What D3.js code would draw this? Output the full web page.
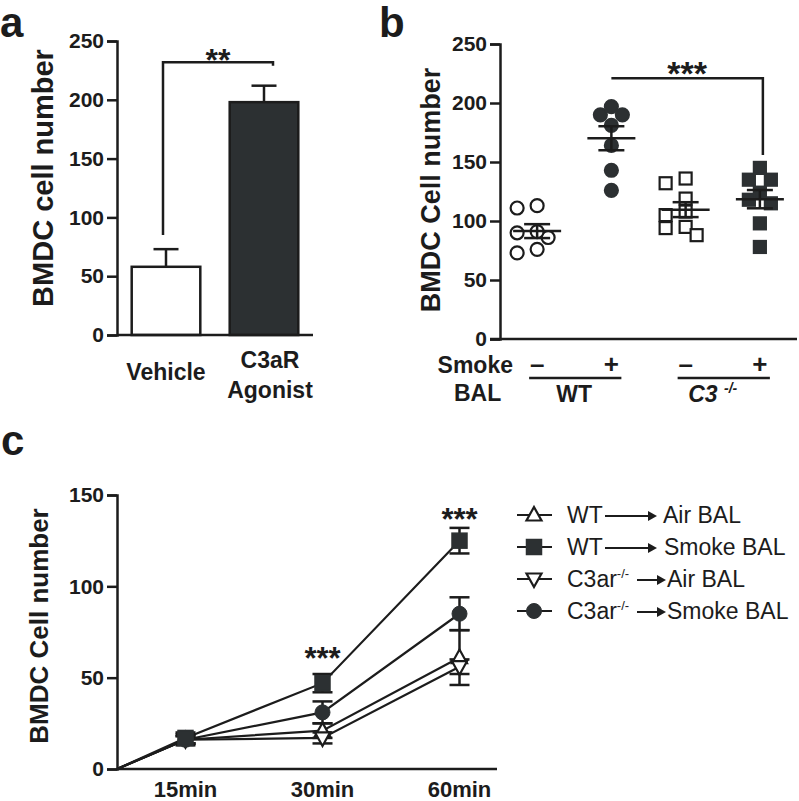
<!DOCTYPE html>
<html>
<head>
<meta charset="utf-8">
<script src="https://cdn.jsdelivr.net/npm/d3@7"></script>
<style>
  html, body { margin: 0; padding: 0; background: #fff; }
  svg { display: block; font-family: "Liberation Sans", Arial, Helvetica, sans-serif; }
</style>
</head>
<body>
<svg id="chart" width="799" height="801"></svg>
<script>
// ---------------- DATA ----------------
// Panel a
const aCategories = ["Vehicle", "C3aR Agonist"];
const aMeans = [58, 198];
const aSem = [15, 14];
const aTicks = [0, 50, 100, 150, 200, 250];
const aSig = { label: "**", y: 232, leftEnd: 85, rightEnd: 229 };

// Panel b (individual points)
const bGroups = ["WT-", "WT+", "C3-", "C3+"];
const bWTAir = [111, 113, 86, 91, 90, 73, 76];
const bWTSmoke = [190, 197, 190, 181, 164, 143, 126];
const bC3Air = [132, 136, 119, 108, 105, 95, 94, 88];
const bC3Smoke = [135, 135, 145, 124, 115, 118, 98, 78];
const bTicks = [0, 50, 100, 150, 200, 250];
const bSmoke = ["-", "+", "-", "+"];
const bSig = { label: "***", y: 221, rightEnd: 156 };

// Panel c
const cTimes = ["15min", "30min", "60min"];
const cWTAir = [16, 21, 61];
const cWTAirErr = [3, 4, 15];
const cWTSmoke = [17, 47, 125];
const cWTSmokeErr = [3, 5, 7];
const cC3arAir = [16, 17, 56];
const cC3arAirErr = [2, 3, 4];
const cC3arSmoke = [16, 31, 85];
const cC3arSmokeErr = [2, 6, 9];
const cTicks = [0, 50, 100, 150];
const cStars = [{ time: "30min", y: 55 }, { time: "60min", y: 131 }];

// ---------------- STYLE ----------------
const INK = "#1c1c1c";
const DARK = "#2c3032";
const svg = d3.select("#chart");

function styleAxis(g) {
  g.selectAll("path, line").attr("stroke", INK).attr("stroke-width", 2.5);
  g.selectAll("text").attr("fill", INK).attr("font-weight", "bold").attr("font-size", 21)
    .attr("font-family", '"Liberation Sans", Arial, sans-serif');
}
function panelLetter(t, x, y) {
  svg.append("text").attr("x", x).attr("y", y).text(t)
    .attr("font-size", 42).attr("font-weight", "bold").attr("fill", INK);
}
function yLabel(t, x, y, size) {
  svg.append("text").attr("transform", `translate(${x},${y}) rotate(-90)`)
    .attr("text-anchor", "middle").attr("font-size", size).attr("font-weight", "bold")
    .attr("fill", INK).text(t);
}

// ================= PANEL A =================
{
  const y = d3.scaleLinear().domain([0, 250]).range([335, 41]);
  const x = d3.scaleBand().domain(aCategories).range([117, 313]).paddingInner(0.3).paddingOuter(0.15);
  const g = svg.append("g");

  const fills = ["#ffffff", DARK];
  aCategories.forEach((c, i) => {
    const cx = x(c) + x.bandwidth() / 2;
    g.append("line").attr("x1", cx).attr("x2", cx).attr("y1", y(aMeans[i])).attr("y2", y(aMeans[i] + aSem[i]))
      .attr("stroke", INK).attr("stroke-width", 2.5);
    g.append("line").attr("x1", cx - 12.5).attr("x2", cx + 12.5)
      .attr("y1", y(aMeans[i] + aSem[i])).attr("y2", y(aMeans[i] + aSem[i]))
      .attr("stroke", INK).attr("stroke-width", 2.5);
    g.append("rect").attr("x", x(c)).attr("width", x.bandwidth())
      .attr("y", y(aMeans[i])).attr("height", y(0) - y(aMeans[i]))
      .attr("fill", fills[i]).attr("stroke", INK).attr("stroke-width", 2.5);
  });

  const ya = svg.append("g").attr("transform", "translate(117,0)")
    .call(d3.axisLeft(y).tickValues(aTicks).tickSize(10).tickPadding(3));
  styleAxis(ya);
  svg.append("line").attr("x1", 117).attr("x2", 313).attr("y1", y(0)).attr("y2", y(0))
    .attr("stroke", INK).attr("stroke-width", 2.5);

  const c0 = x(aCategories[0]) + x.bandwidth() / 2;
  const c1 = x(aCategories[1]) + x.bandwidth() / 2 + 6;
  svg.append("text").attr("x", c0).attr("y", 380).attr("text-anchor", "middle")
    .attr("font-size", 23).attr("font-weight", "bold").attr("fill", INK).text("Vehicle");
  const t1 = svg.append("text").attr("x", c1).attr("y", 368).attr("text-anchor", "middle")
    .attr("font-size", 23).attr("font-weight", "bold").attr("fill", INK);
  t1.append("tspan").attr("x", c1).text("C3aR");
  t1.append("tspan").attr("x", c1).attr("dy", 30).text("Agonist");

  const bx0 = c0 - 3, bx1 = x(aCategories[1]) + x.bandwidth() / 2 + 9;
  svg.append("path")
    .attr("d", `M${bx0},${y(aSig.leftEnd)} V${y(aSig.y)} H${bx1} V${y(aSig.rightEnd)}`)
    .attr("fill", "none").attr("stroke", INK).attr("stroke-width", 2.5);
  svg.append("text").attr("x", (bx0 + bx1) / 2).attr("y", y(aSig.y) + 9).attr("text-anchor", "middle")
    .attr("font-size", 32).attr("font-weight", "bold").attr("fill", INK).text(aSig.label);

  yLabel("BMDC cell number", 53, 178, 29);
  panelLetter("a", 0, 37);
}

// ================= PANEL B =================
{
  const y = d3.scaleLinear().domain([0, 250]).range([339, 44]);
  const x = d3.scalePoint().domain(bGroups).range([500, 797]).padding(0.5);
  const sets = [bWTAir, bWTSmoke, bC3Air, bC3Smoke];
  const shapes = ["circle", "circle", "square", "square"];
  const filled = [false, true, false, true];

  function swarm(vals, cx) {
    const placed = [];
    const order = vals.map((v, i) => i).sort((a, b) => vals[b] - vals[a]);
    const out = new Array(vals.length);
    const minD = 12;
    order.forEach(i => {
      const py = y(vals[i]);
      const cands = [0, -11, 11, -20, 20, -29, 29];
      for (const off of cands) {
        const px = cx + off;
        if (placed.every(p => Math.hypot(p[0] - px, p[1] - py) >= minD)) {
          placed.push([px, py]); out[i] = [px, py]; break;
        }
      }
      if (!out[i]) { placed.push([cx, py]); out[i] = [cx, py]; }
    });
    return out;
  }

  bGroups.forEach((gname, gi) => {
    const cx = x(gname);
    const vals = sets[gi];
    const pts = swarm(vals, cx);
    pts.forEach(([px, py]) => {
      if (shapes[gi] === "circle") {
        svg.append("circle").attr("cx", px).attr("cy", py).attr("r", 6.5)
          .attr("fill", filled[gi] ? DARK : "#fff").attr("stroke", filled[gi] ? DARK : INK).attr("stroke-width", 2.2);
      } else {
        svg.append("rect").attr("x", px - 6).attr("y", py - 6).attr("width", 12).attr("height", 12)
          .attr("fill", filled[gi] ? DARK : "#fff").attr("stroke", filled[gi] ? DARK : INK).attr("stroke-width", 2.2);
      }
    });
    const m = d3.mean(vals);
    const sem = d3.deviation(vals) / Math.sqrt(vals.length);
    const ln = (x1, x2, y1, y2) => svg.append("line").attr("x1", x1).attr("x2", x2).attr("y1", y1).attr("y2", y2)
      .attr("stroke", INK).attr("stroke-width", 2.5);
    ln(cx - 24, cx + 24, y(m), y(m));
    ln(cx, cx, y(m - sem), y(m + sem));
    ln(cx - 13, cx + 13, y(m - sem), y(m - sem));
    ln(cx - 13, cx + 13, y(m + sem), y(m + sem));
  });

  const ya = svg.append("g").attr("transform", "translate(500,0)")
    .call(d3.axisLeft(y).tickValues(bTicks).tickSize(10).tickPadding(3));
  styleAxis(ya);
  svg.append("line").attr("x1", 490).attr("x2", 797).attr("y1", y(0)).attr("y2", y(0))
    .attr("stroke", INK).attr("stroke-width", 2.5);

  bGroups.forEach((gname, gi) => {
    svg.append("text").attr("x", x(gname)).attr("y", 373).attr("text-anchor", "middle")
      .attr("font-size", 26).attr("font-weight", "bold").attr("fill", INK).text(bSmoke[gi] === "-" ? "–" : "+");
  });
  svg.append("text").attr("x", 513).attr("y", 373).attr("text-anchor", "end")
    .attr("font-size", 23).attr("font-weight", "bold").attr("fill", INK).text("Smoke");
  svg.append("text").attr("x", 454).attr("y", 401)
    .attr("font-size", 23).attr("font-weight", "bold").attr("fill", INK).text("BAL");
  const gl = (a, b) => svg.append("line").attr("x1", x(a) - 8).attr("x2", x(b) + 10).attr("y1", 378).attr("y2", 378)
    .attr("stroke", INK).attr("stroke-width", 2.5);
  gl("WT-", "WT+"); gl("C3-", "C3+");
  svg.append("text").attr("x", (x("WT-") + x("WT+")) / 2).attr("y", 402).attr("text-anchor", "middle")
    .attr("font-size", 23).attr("font-weight", "bold").attr("fill", INK).text("WT");
  const c3 = svg.append("text").attr("x", (x("C3-") + x("C3+")) / 2 - 10).attr("y", 402).attr("text-anchor", "middle")
    .attr("font-size", 23).attr("font-weight", "bold").attr("font-style", "italic").attr("fill", INK);
  c3.append("tspan").text("C3 ");
  c3.append("tspan").attr("dy", -9).attr("font-size", 14).text("-/-");

  const bx0 = x("WT+"), bx1 = x("C3+") + 3;
  svg.append("path").attr("d", `M${bx0},${y(bSig.y)} H${bx1} V${y(bSig.rightEnd)}`)
    .attr("fill", "none").attr("stroke", INK).attr("stroke-width", 2.5);
  svg.append("text").attr("x", (bx0 + bx1) / 2).attr("y", y(bSig.y) + 7).attr("text-anchor", "middle")
    .attr("font-size", 34).attr("font-weight", "bold").attr("fill", INK).text(bSig.label);

  yLabel("BMDC Cell number", 440, 190, 27);
  panelLetter("b", 379, 37);
}

// ================= PANEL C =================
{
  const y = d3.scaleLinear().domain([0, 150]).range([769, 495]);
  const x = d3.scaleBand().domain(cTimes).range([117, 528]).paddingInner(0).paddingOuter(0);
  const cx = t => x(t) + x.bandwidth() / 2;
  const series = [
    { name: "WT-Air", vals: cWTAir, err: cWTAirErr, shape: "triUp" },
    { name: "C3ar-Air", vals: cC3arAir, err: cC3arAirErr, shape: "triDown" },
    { name: "C3ar-Smoke", vals: cC3arSmoke, err: cC3arSmokeErr, shape: "circle" },
    { name: "WT-Smoke", vals: cWTSmoke, err: cWTSmokeErr, shape: "square" }
  ];
  const line = d3.line().x(d => d[0]).y(d => d[1]);
  const origin = [117, y(0)];

  function marker(sel, shape, px, py) {
    if (shape === "square") {
      sel.append("rect").attr("x", px - 7.5).attr("y", py - 7.5).attr("width", 15).attr("height", 15)
        .attr("fill", DARK).attr("stroke", DARK).attr("stroke-width", 1.5);
    } else if (shape === "circle") {
      sel.append("circle").attr("cx", px).attr("cy", py).attr("r", 7.5).attr("fill", DARK).attr("stroke", DARK);
    } else if (shape === "triUp") {
      sel.append("path").attr("d", `M${px},${py - 8} L${px + 7.5},${py + 5.5} L${px - 7.5},${py + 5.5} Z`)
        .attr("fill", "#fff").attr("stroke", INK).attr("stroke-width", 2.2);
    } else {
      sel.append("path").attr("d", `M${px},${py + 8} L${px + 7.5},${py - 5.5} L${px - 7.5},${py - 5.5} Z`)
        .attr("fill", "#fff").attr("stroke", INK).attr("stroke-width", 2.2);
    }
  }

  series.forEach(s => {
    const pts = [origin].concat(cTimes.map((t, i) => [cx(t), y(s.vals[i])]));
    svg.append("path").attr("d", line(pts)).attr("fill", "none").attr("stroke", INK).attr("stroke-width", 2.2);
  });
  series.forEach(s => {
    cTimes.forEach((t, i) => {
      const px = cx(t);
      const lo = y(s.vals[i] - s.err[i]), hi = y(s.vals[i] + s.err[i]);
      const ln = (x1, x2, y1, y2) => svg.append("line").attr("x1", x1).attr("x2", x2).attr("y1", y1).attr("y2", y2)
        .attr("stroke", INK).attr("stroke-width", 2.5);
      ln(px, px, lo, hi);
      ln(px - 10, px + 10, lo, lo);
      ln(px - 10, px + 10, hi, hi);
    });
  });
  series.forEach(s => {
    cTimes.forEach((t, i) => marker(svg, s.shape, cx(t), y(s.vals[i])));
  });

  const ya = svg.append("g").attr("transform", "translate(117,0)")
    .call(d3.axisLeft(y).tickValues(cTicks).tickSize(10).tickPadding(3));
  styleAxis(ya);
  const xa = svg.append("g").attr("transform", `translate(0,${y(0)})`)
    .call(d3.axisBottom(x).tickSize(0).tickPadding(12));
  styleAxis(xa);
  xa.select(".domain").attr("d", `M117,0H497`);
  xa.selectAll("text").attr("font-size", 22);

  cStars.forEach(s => {
    svg.append("text").attr("x", cx(s.time)).attr("y", y(s.y)).attr("text-anchor", "middle")
      .attr("font-size", 31).attr("font-weight", "bold").attr("fill", INK).text("***");
  });

  const legend = [
    { shape: "triUp", left: "WT", sup: "", a0: 605, a1: 657, right: "Air BAL", rx: 663 },
    { shape: "square", left: "WT", sup: "", a0: 605, a1: 657, right: "Smoke BAL", rx: 664 },
    { shape: "triDown", left: "C3ar", sup: "-/-", a0: 637, a1: 666, right: "Air BAL", rx: 667 },
    { shape: "circle", left: "C3ar", sup: "-/-", a0: 637, a1: 666, right: "Smoke BAL", rx: 667 }
  ];
  legend.forEach((L, i) => {
    const ly = 515 + i * 32;
    svg.append("line").attr("x1", 517).attr("x2", 552).attr("y1", ly).attr("y2", ly)
      .attr("stroke", INK).attr("stroke-width", 2.2);
    marker(svg, L.shape, 534, ly);
    const tl = svg.append("text").attr("x", 567).attr("y", ly + 8).attr("font-size", 23).attr("fill", INK);
    tl.append("tspan").text(L.left);
    if (L.sup) tl.append("tspan").attr("dy", -9).attr("font-size", 13).text(L.sup);
    svg.append("line").attr("x1", L.a0).attr("x2", L.a1 - 6).attr("y1", ly + 1).attr("y2", ly + 1)
      .attr("stroke", INK).attr("stroke-width", 2);
    svg.append("path").attr("d", `M${L.a1},${ly + 1} L${L.a1 - 9},${ly - 4} L${L.a1 - 9},${ly + 6} Z`).attr("fill", INK);
    svg.append("text").attr("x", L.rx).attr("y", ly + 8).attr("font-size", 23).attr("fill", INK).text(L.right);
  });

  yLabel("BMDC Cell number", 48, 626, 26);
  panelLetter("c", 1, 455);
}
</script>
</body>
</html>
